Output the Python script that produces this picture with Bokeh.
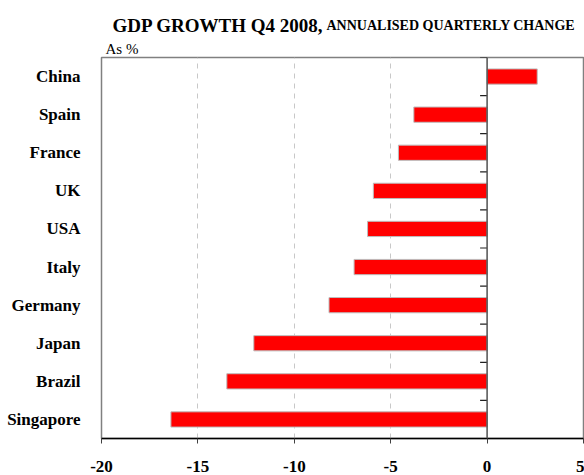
from bokeh.plotting import figure
from bokeh.layouts import column
from bokeh.models import ColumnDataSource, Span, FixedTicker, Range1d
from bokeh.core.properties import value
from bokeh.embed import file_html
from bokeh.resources import INLINE

countries = ["China", "Spain", "France", "UK", "USA", "Italy", "Germany", "Japan", "Brazil", "Singapore"]
growth = [2.6, -3.8, -4.6, -5.9, -6.2, -6.9, -8.2, -12.1, -13.5, -16.4]
x_ticks = [-20, -15, -10, -5, 0, 5]
x_tick_labels = ["-20", "-15", "-10", "-5", "0", "5"]
grid_ticks = [-15, -10, -5]
title_main = "GDP GROWTH Q4 2008,"
title_sub = "ANNUALISED QUARTERLY CHANGE"
units_note = "As %"

n = len(countries)
ypos = [n - 1 - i for i in range(n)]
bounds = [i - 0.5 for i in range(n + 1)]

src = ColumnDataSource(dict(y=ypos, v=growth, name=countries))

FONT = "Liberation Serif"
W = 584
HEAD_H = 55
FRAME_L = 101
FRAME_R = 583

# ---- header (title area); the column layout aligns its frame with the chart frame,
# so its x range is given in page pixels over that frame, y pointing down
head = figure(width=W, height=HEAD_H, x_range=Range1d(FRAME_L, FRAME_R), y_range=Range1d(HEAD_H, 0),
              output_backend="svg", toolbar_location=None,
              min_border_left=FRAME_L, min_border_right=W - FRAME_R, min_border_top=0,
              min_border_bottom=0, outline_line_color=None,
              x_axis_location=None, y_axis_location=None)
head.grid.visible = False
head.text(x=[112], y=[25], text=[title_main], text_font=value(FONT), text_font_style="bold",
          text_font_size="19px", text_color="black", text_baseline="alphabetic")
head.text(x=[326], y=[25], text=[title_sub], text_font=value(FONT), text_font_style="bold",
          text_font_size="14px", text_color="black", text_baseline="alphabetic")
head.text(x=[105], y=[48], text=[units_note], text_font=value(FONT),
          text_font_size="15px", text_color="black", text_baseline="alphabetic")

# ---- main chart
p = figure(width=W, height=475 - HEAD_H, x_range=(-20, 5), y_range=(-0.5, n - 0.5),
           output_backend="svg", toolbar_location=None,
           min_border_left=FRAME_L, min_border_right=W - FRAME_R, min_border_top=2,
           min_border_bottom=37)
p.background_fill_color = "white"
p.border_fill_color = "white"
p.outline_line_color = "#808080"
p.outline_line_width = 1.5

p.hbar(y="y", left=0, right="v", height=0.4, source=src,
       fill_color="#ff0000", line_color="#bdbdbd", line_width=1)

p.add_layout(Span(location=0, dimension="height", line_color="#505050", line_width=1.5))
p.ray(x=0, y=bounds, length=7, length_units="screen", angle=3.14159265,
      line_color="#202020", line_width=1.2)

xa = p.xaxis[0]
xa.ticker = FixedTicker(ticks=x_ticks)
xa.major_label_overrides = {t: s for t, s in zip(x_ticks, x_tick_labels)}
xa.axis_line_color = "black"
xa.axis_line_width = 1.5
xa.major_tick_line_color = "#404040"
xa.major_tick_out = 5
xa.major_tick_in = 0
xa.minor_tick_line_color = None
xa.major_label_text_font = FONT
xa.major_label_text_font_style = "bold"
xa.major_label_text_font_size = "17px"
xa.major_label_text_color = "black"
xa.major_label_standoff = 17

ya = p.yaxis[0]
ya.ticker = FixedTicker(ticks=ypos)
ya.major_label_overrides = {yv: nm for yv, nm in zip(ypos, countries)}
ya.axis_line_color = None
ya.major_tick_line_color = None
ya.minor_tick_line_color = None
ya.major_label_text_font = FONT
ya.major_label_text_font_style = "bold"
ya.major_label_text_font_size = "17px"
ya.major_label_text_color = "black"
ya.major_label_standoff = 15

p.xgrid.ticker = FixedTicker(ticks=grid_ticks)
p.xgrid.grid_line_color = "#c8c8c8"
p.xgrid.grid_line_dash = "5 5"
p.ygrid.grid_line_color = None

layout = column(head, p, spacing=0)
open("out.html", "w").write(file_html(layout, INLINE))
